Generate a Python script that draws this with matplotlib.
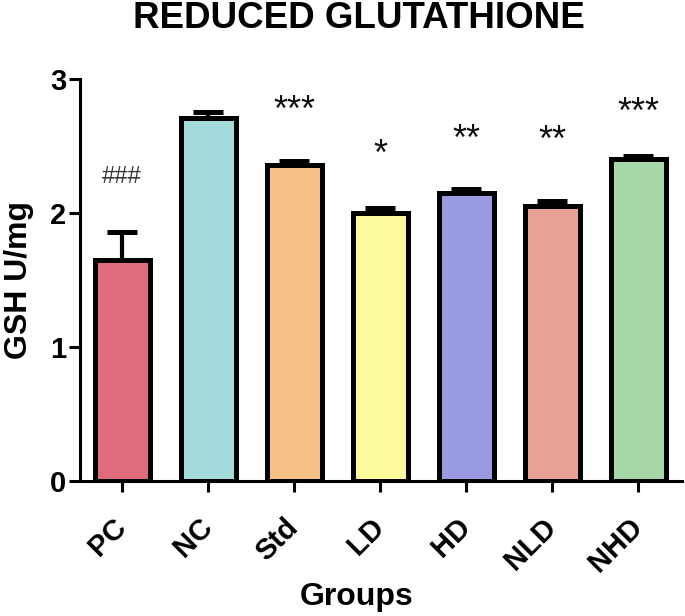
import matplotlib
matplotlib.use("Agg")
import matplotlib.pyplot as plt
import numpy as np

groups = ["PC", "NC", "Std", "LD", "HD", "NLD", "NHD"]
values = [1.65, 2.705, 2.36, 2.00, 2.15, 2.055, 2.40]
errors = [0.21, 0.045, 0.03, 0.035, 0.03, 0.035, 0.025]
colors = ["#DE6C7D", "#A6DBDB", "#F8C185", "#FCFA9B", "#9A9AE0", "#E8A294", "#A8D8A7"]
marks = ["###", "", "***", "*", "**", "**", "***"]
mark_y = [2.27, 0, 2.82, 2.49, 2.60, 2.59, 2.80]

plt.rcParams['font.family'] = ['Liberation Sans', 'DejaVu Sans']

fig = plt.figure(figsize=(6.85, 6.16), dpi=100)
ax = fig.add_axes([0.1168, 0.219, 0.879, 0.653])

x = np.arange(len(groups))
ax.errorbar(x, values, yerr=[np.zeros(len(values)), errors], fmt='none',
            ecolor='black', elinewidth=3.0, capsize=11, capthick=3.6, zorder=1)
ax.bar(x, values, width=0.64, color=colors, edgecolor='black', linewidth=3.6, zorder=2)

for xi, m, my in zip(x, marks, mark_y):
    if not m:
        continue
    if m.startswith('#'):
        ax.text(xi, my, m, ha='center', va='center', fontsize=17, color='#333333')
    else:
        ax.text(xi, my - 0.06, m, ha='center', va='center', fontsize=26, color='#111111')

ax.set_ylim(0, 3)
ax.set_xlim(-0.49, 6.51)
ax.set_yticks([0, 1, 2, 3])
ax.set_yticklabels(["0", "1", "2", "3"], fontsize=21, fontweight='bold')
ax.set_xticks(x)
ax.set_xticklabels(groups, rotation=45, ha='right', va='center', rotation_mode='anchor',
                   fontsize=21, fontweight='bold')
ax.tick_params(axis='both', width=2.2, length=8, direction='out')
ax.tick_params(axis='x', pad=22)
ax.tick_params(axis='y', pad=2)
for s in ['top', 'right']:
    ax.spines[s].set_visible(False)
for s in ['left', 'bottom']:
    ax.spines[s].set_linewidth(2.2)

ax.set_ylabel("GSH U/mg", fontsize=23, fontweight='bold')
ax.yaxis.set_label_coords(-0.076, 0.5)
ax.set_xlabel("Groups", fontsize=23, fontweight='bold')
ax.xaxis.set_label_coords(0.46, -0.25)
fig.text(359 / 685, 1 - 18 / 616, "REDUCED GLUTATHIONE", fontsize=26.5, fontweight='bold',
         ha='center', va='center')

fig.savefig("out.png", dpi=100)
